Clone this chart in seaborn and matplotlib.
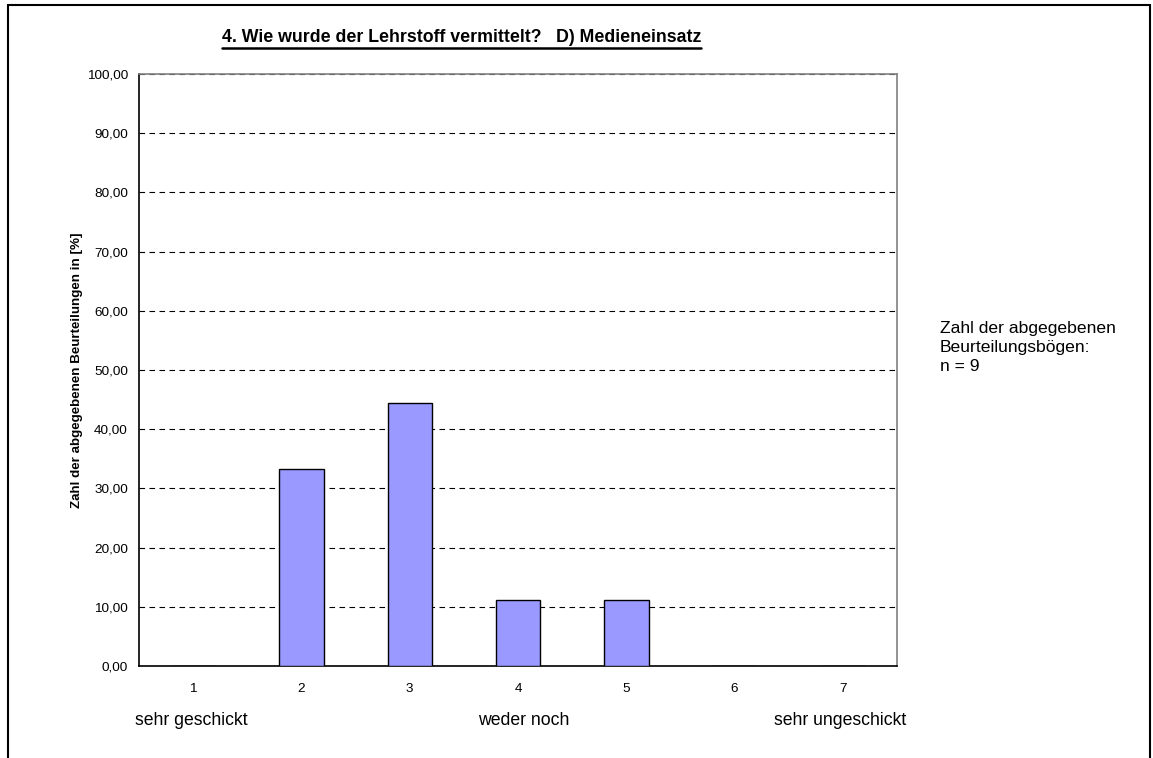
import numpy as np
import pandas as pd
import matplotlib
matplotlib.use("Agg")
import matplotlib.pyplot as plt
import seaborn as sns
from matplotlib.patches import Rectangle
from matplotlib.ticker import FuncFormatter

# data: share of answers per grade (n = 9)
grades = ["1", "2", "3", "4", "5", "6", "7"]
percent = [0.0, 33.33, 44.44, 11.11, 11.11, 0.0, 0.0]
scale_labels = ["sehr geschickt", "weder noch", "sehr ungeschickt"]

df = pd.DataFrame({"grade": grades, "percent": percent})

sns.set_style("white")
plt.rcParams["font.family"] = ["Liberation Sans", "DejaVu Sans"]
plt.rcParams["text.color"] = "black"
plt.rcParams["xtick.color"] = "black"
plt.rcParams["ytick.color"] = "black"
plt.rcParams["axes.labelcolor"] = "black"

fig = plt.figure(figsize=(11.53, 7.58), dpi=100)
ax = fig.add_axes([0.1206, 0.1214, 0.6574, 0.781])

sns.barplot(data=df, x="grade", y="percent", color="#9999FF", saturation=1,
            width=0.41, edgecolor="black", linewidth=1, ax=ax, zorder=3)

ax.set_ylim(0, 100)
ax.set_xlim(-0.5, 6.5)
ax.set_yticks(np.arange(0, 101, 10))
ax.yaxis.set_major_formatter(FuncFormatter(lambda v, _: f"{v:.2f}".replace(".", ",")))
ax.yaxis.grid(True, linestyle=(0, (5, 4)), color="black", linewidth=0.8, zorder=0)
ax.set_axisbelow(True)

# x ticks sit between categories, labels in the middle
ax.set_xticks(np.arange(-0.5, 7, 1))
ax.set_xticklabels([])
ax.set_xticks(np.arange(0, 7), labels=grades, minor=True)
ax.tick_params(axis="x", which="minor", length=0, pad=12, labelsize=9.7)
ax.tick_params(axis="x", which="major", direction="out", length=5, width=1, color="black")
ax.tick_params(axis="y", direction="out", length=6, width=1, color="black", labelsize=9.7, pad=2)

ax.set_xlabel("")
ax.set_ylabel("Zahl der abgegebenen Beurteilungen in [%]", fontsize=9.6,
              fontweight="bold", labelpad=2.5)

for side in ["left", "bottom"]:
    ax.spines[side].set_color("black")
    ax.spines[side].set_linewidth(1.2)
for side in ["top", "right"]:
    ax.spines[side].set_color("#808080")
    ax.spines[side].set_linewidth(1.2)

title = fig.text(0.4003, 0.951, "4. Wie wurde der Lehrstoff vermittelt?   D) Medieneinsatz",
                 ha="center", va="center", fontsize=12.8, fontweight="bold")
# underline the title across its own width
fig.canvas.draw()
bb = title.get_window_extent().transformed(fig.transFigure.inverted())
fig.add_artist(plt.Line2D([bb.x0, bb.x1], [0.9367, 0.9367], color="black", linewidth=1.8))

for xpos, txt in zip([0.1657, 0.4545, 0.7286], scale_labels):
    fig.text(xpos, 0.050, txt, ha="center", va="center", fontsize=12.7)

fig.text(0.8153, 0.577, "Zahl der abgegebenen\nBeurteilungsbögen:\nn = 9",
         ha="left", va="top", fontsize=12.6, linespacing=1.33)

fig.add_artist(Rectangle((0.007, -0.01), 0.9905, 1.003, transform=fig.transFigure,
                         fill=False, edgecolor="black", linewidth=1.5))

fig.savefig("out.png", dpi=100)
